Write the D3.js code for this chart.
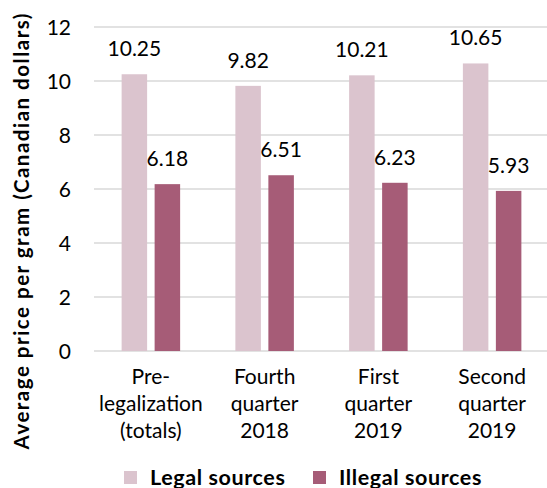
<!DOCTYPE html>
<html><head><meta charset="utf-8">
<script src="https://cdn.jsdelivr.net/npm/d3@7"></script>
<style>
html,body{margin:0;padding:0;background:#fff;}
svg{display:block;font-family:Lato,"Open Sans",sans-serif;}
</style></head>
<body>
<svg id="chart" width="547" height="488"></svg>
<script>
const categories = ["Pre-legalization (totals)", "Fourth quarter 2018", "First quarter 2019", "Second quarter 2019"];
const categoryLines = [["Pre-", "legalization", "(totals)"], ["Fourth", "quarter", "2018"], ["First", "quarter", "2019"], ["Second", "quarter", "2019"]];
const seriesNames = ["Legal sources", "Illegal sources"];
const legalValues = [10.25, 9.82, 10.21, 10.65];
const illegalValues = [6.18, 6.51, 6.23, 5.93];
const yTicks = [0, 2, 4, 6, 8, 10, 12];
const yTitle = "Average price per gram (Canadian dollars)";
const colors = ["#dbc4ce", "#a65c77"];

const svg = d3.select("#chart");
const x0 = d3.scaleBand().domain(categories).range([94, 549]);
const x1 = d3.scaleBand().domain(seriesNames).range([0, x0.bandwidth()]).paddingInner(0.227).paddingOuter(0.837);
const y = d3.scaleLinear().domain([0, 12]).range([351, 27]);

// gridlines
svg.append("g").selectAll("line").data(yTicks).join("line")
  .attr("x1", 94).attr("x2", 547)
  .attr("y1", d => y(d)).attr("y2", d => y(d))
  .attr("stroke", "#d9d9d9").attr("stroke-width", 1.5);

// y tick labels
svg.append("g").selectAll("text").data(yTicks).join("text")
  .attr("x", 71).attr("y", d => y(d)).attr("dy", "0.36em")
  .attr("text-anchor", "end").attr("font-size", 21).attr("fill", "#000")
  .text(d => d);

// y title
svg.append("text")
  .attr("transform", "translate(28.5,231.5) rotate(-90)")
  .attr("text-anchor", "middle").attr("font-size", 20.5).attr("font-weight", "bold")
  .attr("textLength", 436).attr("lengthAdjust", "spacing")
  .text(yTitle);

const rows = categories.map((c, i) => ({cat: c, vals: [legalValues[i], illegalValues[i]]}));
const groups = svg.append("g").selectAll("g").data(rows).join("g")
  .attr("transform", d => `translate(${x0(d.cat)},0)`);

groups.selectAll("rect").data(d => d.vals.map((v, j) => ({s: seriesNames[j], v, j}))).join("rect")
  .attr("x", d => x1(d.s)).attr("width", x1.bandwidth())
  .attr("y", d => y(d.v)).attr("height", d => y(0) - y(d.v))
  .attr("fill", d => colors[d.j]);

groups.selectAll("text.val").data(d => d.vals.map((v, j) => ({s: seriesNames[j], v, j}))).join("text")
  .attr("class", "val")
  .attr("x", d => x1(d.s) + x1.bandwidth() / 2).attr("y", d => y(d.v) - 18)
  .attr("text-anchor", "middle").attr("font-size", 21)
  .text(d => d.v.toFixed(2));

// x labels
categories.forEach((c, i) => {
  const cx = x0(c) + x0.bandwidth() / 2;
  const t = svg.append("text").attr("text-anchor", "middle").attr("font-size", 21);
  categoryLines[i].forEach((ln, k) => {
    t.append("tspan").attr("x", cx).attr("y", 384 + k * 27).text(ln);
  });
});

// legend
const legendX = [124, 313];
seriesNames.forEach((s, i) => {
  svg.append("rect").attr("x", legendX[i]).attr("y", 471).attr("width", 13).attr("height", 13).attr("fill", colors[i]);
  svg.append("text").attr("x", legendX[i] + 26).attr("y", 484.5)
    .attr("font-size", 21.5).attr("font-weight", "bold").attr("letter-spacing", 0.6).text(s);
});
</script>
</body></html>
